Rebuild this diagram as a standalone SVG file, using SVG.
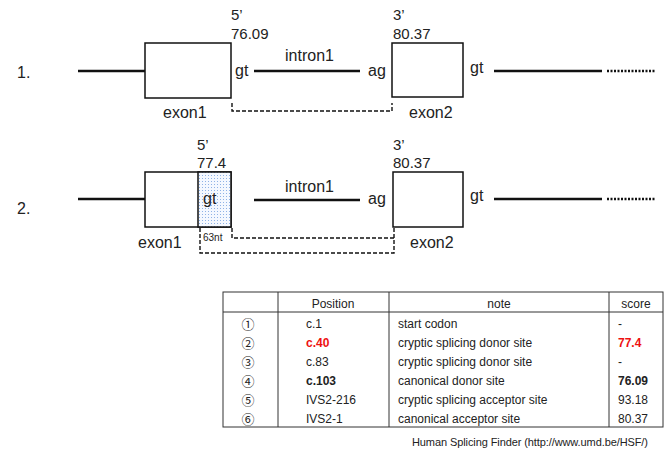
<svg xmlns="http://www.w3.org/2000/svg" width="670" height="451" viewBox="0 0 670 451">
<defs>
<pattern id="dots" width="3" height="3" patternUnits="userSpaceOnUse">
<rect width="3" height="3" fill="#f4f8ff"/>
<rect x="1" y="1" width="1" height="1" fill="#8fb2e6"/>
</pattern>
<style>
text{font-family:"Liberation Sans",Arial,sans-serif;fill:#222}
.lbl{font-size:16px}
.num{font-size:15px}
.box{fill:#fff;stroke:#111;stroke-width:1.5}
.line{stroke:#111;stroke-width:2.5;fill:none}
.dot{stroke:#111;stroke-width:2.5;stroke-dasharray:2 1.5;fill:none}
.dash{stroke:#111;stroke-width:1.4;stroke-dasharray:4 2;fill:none}
.tb{font-size:12px}
.circ{font-family:"Noto Sans CJK KR","Noto Sans CJK JP","DejaVu Sans",sans-serif;font-size:13px}
.grid{stroke:#333;stroke-width:1;fill:none}
</style>
</defs>
<rect width="670" height="451" fill="#fff"/>

<g id="row1">
<text class="lbl" x="17" y="78">1.</text>
<g id="r1-exon1"><rect class="box" x="145" y="43" width="86" height="55"/><text class="lbl" x="163" y="118">exon1</text></g>
<g id="r1-donor"><text class="num" x="231" y="20">5’</text><text class="num" x="231" y="39">76.09</text><text class="lbl" x="235" y="76">gt</text></g>
<g id="r1-intron"><text class="lbl" x="285" y="61">intron1</text><text class="lbl" x="368" y="76">ag</text></g>
<g id="r1-exon2"><rect class="box" x="392" y="43" width="71" height="54"/><text class="num" x="393" y="20">3’</text><text class="num" x="393" y="39">80.37</text><text class="lbl" x="409" y="118">exon2</text><text class="lbl" x="470" y="73">gt</text></g>
</g>

<g id="row2">
<text class="lbl" x="17" y="214">2.</text>
<g id="r2-exon1"><rect class="box" x="145" y="172" width="86" height="55"/><rect x="198" y="172" width="33" height="55" fill="url(#dots)" stroke="#111" stroke-width="1.5"/><text class="lbl" x="138" y="248">exon1</text><text class="lbl" x="203" y="204">gt</text><text x="203" y="241" style="font-size:10px">63nt</text></g>
<g id="r2-donor"><text class="num" x="197" y="150">5’</text><text class="num" x="197" y="168">77.4</text></g>
<g id="r2-intron"><text class="lbl" x="285" y="192">intron1</text><text class="lbl" x="368" y="204">ag</text></g>
<g id="r2-exon2"><rect class="box" x="393" y="172" width="70" height="55"/><text class="num" x="393" y="150">3’</text><text class="num" x="393" y="168">80.37</text><text class="lbl" x="410" y="248">exon2</text><text class="lbl" x="470" y="201">gt</text></g>
</g>

<g id="connectors">
<line class="line" x1="78" y1="71" x2="145" y2="71"/>
<line class="line" x1="254" y1="71" x2="360" y2="71"/>
<line class="line" x1="494" y1="71" x2="602" y2="71"/>
<line class="dot" x1="607" y1="71" x2="655" y2="71"/>
<polyline class="dash" points="232,103 232,111 392,111 392,103"/>
<line class="line" x1="78" y1="199" x2="145" y2="199"/>
<line class="line" x1="254" y1="200" x2="360" y2="200"/>
<line class="line" x1="494" y1="199" x2="602" y2="199"/>
<line class="dot" x1="607" y1="199" x2="655" y2="199"/>
<polyline class="dash" points="232,228 232,238 394,238"/>
<polyline class="dash" points="200,228 200,253 394,253 394,228"/>
</g>

<g id="table">
<rect class="grid" x="223" y="292" width="440" height="135"/>
<line class="grid" x1="223" y1="312" x2="663" y2="312"/>
<line class="grid" x1="278" y1="292" x2="278" y2="427"/>
<line class="grid" x1="389" y1="292" x2="389" y2="427"/>
<line class="grid" x1="609" y1="292" x2="609" y2="427"/>
<text class="tb" x="333" y="308" text-anchor="middle">Position</text>
<text class="tb" x="499" y="308" text-anchor="middle">note</text>
<text class="tb" x="636" y="308" text-anchor="middle">score</text>

<text class="circ" x="248" y="329" text-anchor="middle">①</text>
<text class="tb" x="306" y="328">c.1</text>
<text class="tb" x="398" y="328">start codon</text>
<text class="tb" x="618" y="328">-</text>

<text class="circ" x="248" y="348" text-anchor="middle">②</text>
<text class="tb" x="306" y="347" style="fill:#ee1111;font-weight:bold">c.40</text>
<text class="tb" x="398" y="347">cryptic splicing donor site</text>
<text class="tb" x="618" y="347" style="fill:#ee1111;font-weight:bold">77.4</text>

<text class="circ" x="248" y="367" text-anchor="middle">③</text>
<text class="tb" x="306" y="366">c.83</text>
<text class="tb" x="398" y="366">cryptic splicing donor site</text>
<text class="tb" x="618" y="366">-</text>

<text class="circ" x="248" y="386" text-anchor="middle">④</text>
<text class="tb" x="306" y="385" style="font-weight:bold">c.103</text>
<text class="tb" x="398" y="385">canonical donor site</text>
<text class="tb" x="618" y="385" style="font-weight:bold">76.09</text>

<text class="circ" x="248" y="405" text-anchor="middle">⑤</text>
<text class="tb" x="306" y="404">IVS2-216</text>
<text class="tb" x="398" y="404">cryptic splicing acceptor site</text>
<text class="tb" x="618" y="404">93.18</text>

<text class="circ" x="248" y="424" text-anchor="middle">⑥</text>
<text class="tb" x="306" y="423">IVS2-1</text>
<text class="tb" x="398" y="423">canonical acceptor site</text>
<text class="tb" x="618" y="423">80.37</text>
<text x="412" y="446" style="font-size:11px" textLength="236">Human Splicing Finder (http://www.umd.be/HSF/)</text>
</g>
</svg>
